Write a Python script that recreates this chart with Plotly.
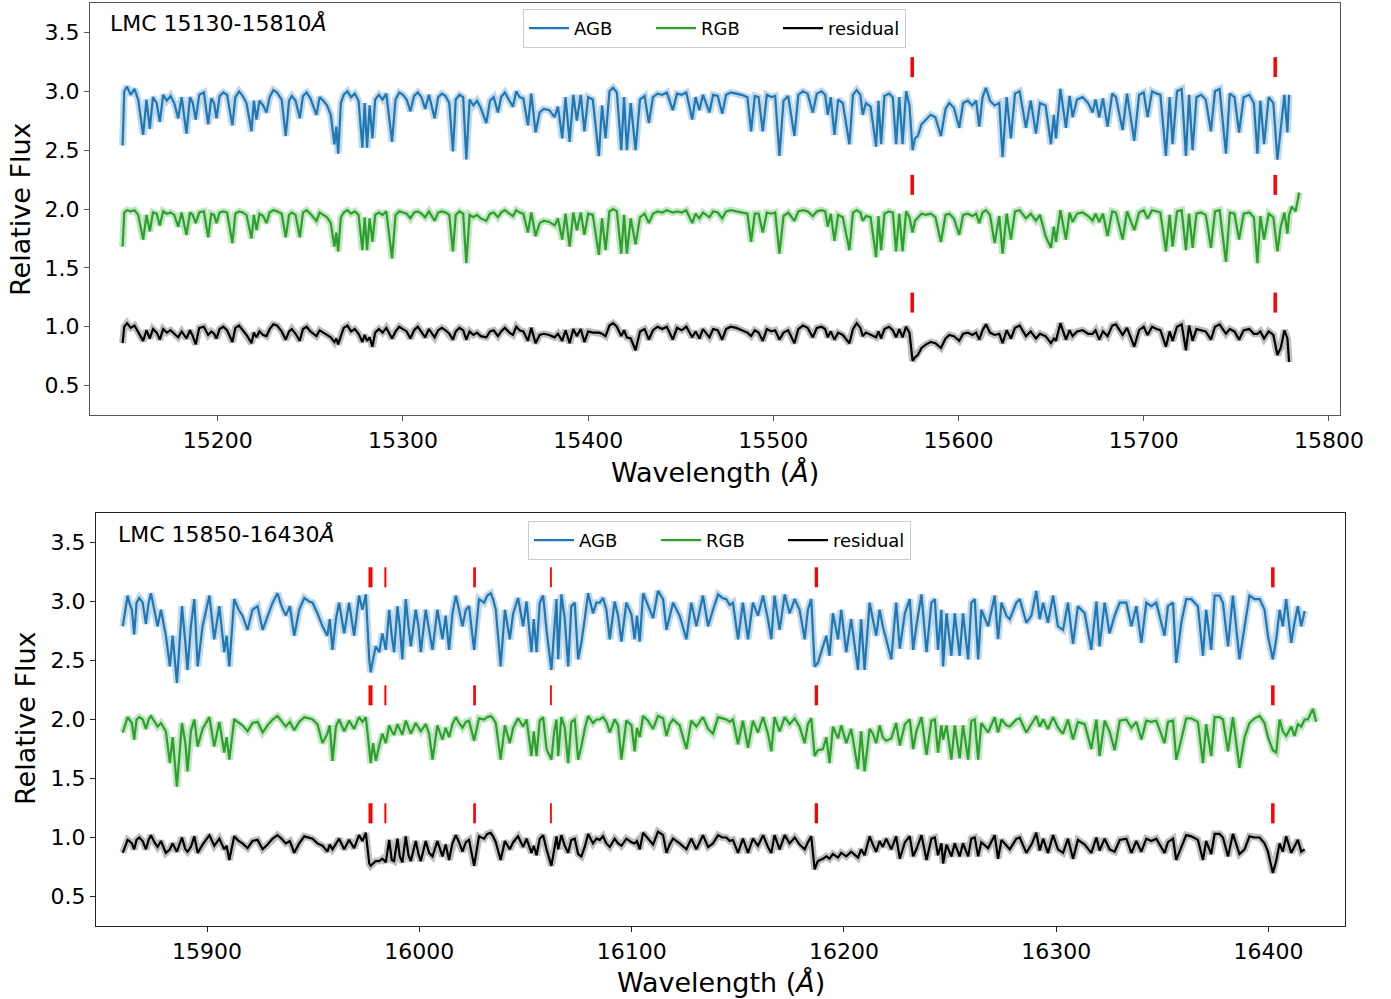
import plotly.graph_objects as go

# ---------------- top panel (LMC 15130-15810 A) ----------------
wl_top = [
    15148.6, 15149.5, 15151, 15153, 15155, 15157, 15159.7, 15161.5, 15163.3, 15165,
    15167, 15168.7, 15170.5, 15172.5, 15174.5, 15176.5, 15178.6, 15180.5, 15183.1, 15185,
    15186.5, 15188.1, 15190, 15192.5, 15194.8, 15196.5, 15198, 15199.3, 15201, 15203,
    15205, 15207.9, 15209.5, 15211.5, 15213.5, 15215.5, 15218.2, 15219.5, 15220.9, 15222.5,
    15224.5, 15226.3, 15228, 15230, 15232, 15234.5, 15236.7, 15238.5, 15240, 15242,
    15244.3, 15246, 15248, 15250, 15253.3, 15255, 15257, 15259, 15261, 15263,
    15264, 15265, 15266.5, 15268, 15270, 15272, 15274, 15276, 15278.1, 15279.3,
    15280.6, 15282, 15283.5, 15285, 15287, 15289, 15291, 15294.1, 15296, 15298,
    15300, 15302, 15304, 15306, 15308, 15310, 15312, 15314, 15317.1, 15319,
    15321, 15323, 15325, 15327, 15328.5, 15330.5, 15332.5, 15334.2, 15336, 15338,
    15340, 15342, 15345, 15347, 15349, 15351.3, 15353, 15355, 15357.5, 15359.4,
    15361.2, 15363, 15365, 15367.5, 15369.3, 15371.6, 15373.8, 15376, 15379, 15381.9,
    15383.7, 15386, 15387.8, 15390, 15392, 15393.9, 15396, 15398, 15400, 15402.5,
    15405.8, 15407.5, 15409.4, 15411.5, 15413.5, 15415.5, 15417.9, 15419.4, 15420.9, 15423,
    15425.6, 15428, 15430.5, 15432.8, 15435, 15437.5, 15440, 15442.5, 15445.7, 15448,
    15450.5, 15453, 15456.2, 15458, 15460.1, 15462, 15465.5, 15467.5, 15470, 15472.4,
    15474.5, 15477, 15480, 15483, 15486, 15488, 15490, 15492, 15494.3, 15496.5,
    15499, 15501, 15503.3, 15505.5, 15508, 15511.4, 15513.5, 15516, 15518.5, 15521.3,
    15523.5, 15526, 15528, 15529.4, 15531, 15533, 15535, 15537.5, 15541.1, 15543,
    15545, 15547, 15548.3, 15550, 15552.5, 15555.5, 15556.8, 15558.2, 15560, 15562.5,
    15564.5, 15566.3, 15568, 15569.8, 15571.7, 15573.5, 15575.2, 15576.5, 15578, 15580,
    15582.5, 15585, 15587.5, 15590.5, 15593, 15595, 15597.5, 15600.4, 15602.5, 15605,
    15607.5, 15609.5, 15611.2, 15613, 15614.8, 15617, 15619.5, 15622, 15623.8, 15626,
    15628.3, 15630.5, 15633, 15636.4, 15639, 15641.8, 15644, 15647, 15649.9, 15651.5,
    15652.6, 15655, 15658, 15660, 15661.6, 15664, 15667, 15670, 15672.4, 15674,
    15676, 15678, 15680.5, 15683, 15685, 15688.6, 15691, 15694.9, 15697.5, 15700,
    15702.1, 15704.5, 15707, 15709, 15712, 15714, 15715.6, 15718, 15720.5, 15722.8,
    15724.5, 15726.4, 15728.5, 15731, 15733.5, 15736.3, 15738.5, 15741, 15744.4, 15746.5,
    15749, 15751.5, 15754, 15757, 15759.5, 15761.4, 15763, 15765, 15767.5, 15770,
    15772.2, 15774, 15776, 15777.6, 15778.5, 15780, 15782, 15784,
]
agb_top = [
    2.54, 3.00, 3.04, 2.97, 3.02, 2.93, 2.63, 2.93, 2.68, 2.95,
    2.90, 2.74, 2.97, 2.92, 2.96, 2.90, 2.77, 2.95, 2.64, 2.95,
    2.90, 2.76, 2.97, 2.99, 2.72, 2.94, 2.90, 2.77, 2.96, 2.99,
    2.97, 2.71, 2.95, 3.00, 2.96, 2.90, 2.66, 2.92, 2.76, 2.92,
    2.88, 2.82, 2.95, 3.01, 2.99, 2.93, 2.62, 2.92, 2.96, 2.92,
    2.77, 2.96, 2.99, 2.94, 2.80, 2.95, 2.92, 2.88, 2.80, 2.55,
    2.70, 2.47, 2.90, 2.97, 3.00, 2.95, 2.98, 2.92, 2.52, 2.90,
    2.52, 2.88, 2.60, 2.93, 2.97, 2.93, 2.98, 2.57, 2.93, 2.99,
    2.97, 2.93, 2.83, 2.96, 2.99, 2.95, 2.85, 2.97, 2.77, 2.95,
    2.98, 2.96, 2.90, 2.49, 2.93, 2.97, 2.95, 2.42, 2.93, 2.88,
    2.92, 2.86, 2.73, 2.92, 2.95, 2.82, 2.95, 2.99, 2.92, 2.87,
    3.00, 2.95, 2.94, 2.71, 2.98, 2.65, 2.82, 2.85, 2.84, 2.78,
    2.87, 2.60, 2.95, 2.57, 2.97, 2.75, 2.97, 2.66, 2.95, 2.93,
    2.45, 2.88, 2.60, 3.00, 3.03, 2.99, 2.50, 2.95, 2.50, 2.90,
    2.50, 2.93, 2.96, 2.73, 2.95, 2.98, 2.97, 2.99, 2.84, 2.98,
    2.97, 2.99, 2.76, 2.95, 2.84, 2.97, 2.82, 2.97, 2.96, 2.81,
    2.97, 2.99, 2.98, 2.97, 2.95, 2.66, 2.96, 2.95, 2.66, 2.97,
    2.95, 2.96, 2.45, 2.92, 2.96, 2.62, 2.97, 3.00, 2.98, 2.82,
    2.98, 3.00, 2.97, 2.80, 2.95, 2.63, 2.93, 2.90, 2.55, 2.97,
    3.01, 2.97, 2.80, 2.90, 2.87, 2.53, 2.92, 2.55, 2.96, 2.98,
    2.95, 2.55, 2.95, 2.55, 3.00, 2.88, 2.50, 2.60, 2.62, 2.72,
    2.76, 2.80, 2.78, 2.62, 2.85, 2.90, 2.86, 2.69, 2.90, 2.92,
    2.88, 2.92, 2.70, 2.95, 3.03, 2.92, 2.88, 2.90, 2.44, 2.95,
    2.60, 2.98, 3.00, 2.69, 2.92, 2.64, 2.90, 2.88, 2.55, 2.80,
    2.60, 3.02, 2.69, 2.96, 2.78, 2.93, 2.95, 2.90, 2.82, 2.93,
    2.78, 2.94, 2.70, 2.98, 2.95, 2.67, 2.98, 2.58, 2.97, 2.99,
    2.78, 3.00, 2.98, 2.97, 2.45, 2.95, 2.55, 3.00, 3.02, 2.45,
    2.97, 2.50, 2.95, 2.97, 2.93, 2.66, 3.00, 3.02, 2.47, 2.98,
    2.95, 2.65, 2.95, 2.97, 2.90, 2.47, 2.92, 2.55, 2.95, 2.90,
    2.42, 2.70, 2.97, 2.65, 2.97, None, None, None,
]
rgb_top = [
    1.68, 1.97, 1.99, 1.98, 1.99, 1.95, 1.74, 1.95, 1.81, 1.97,
    1.96, 1.86, 1.98, 1.96, 1.97, 1.95, 1.85, 1.97, 1.78, 1.97,
    1.95, 1.88, 1.97, 1.98, 1.76, 1.96, 1.95, 1.88, 1.97, 1.98,
    1.97, 1.71, 1.96, 1.98, 1.97, 1.95, 1.75, 1.95, 1.82, 1.96,
    1.94, 1.88, 1.97, 1.99, 1.98, 1.96, 1.76, 1.95, 1.97, 1.95,
    1.76, 1.97, 1.99, 1.96, 1.90, 1.97, 1.95, 1.93, 1.88, 1.68,
    1.80, 1.64, 1.93, 1.97, 1.99, 1.96, 1.98, 1.95, 1.65, 1.93,
    1.65, 1.92, 1.72, 1.95, 1.97, 1.95, 1.98, 1.58, 1.95, 1.98,
    1.97, 1.96, 1.92, 1.97, 1.98, 1.96, 1.93, 1.98, 1.90, 1.97,
    1.98, 1.97, 1.95, 1.64, 1.95, 1.98, 1.96, 1.54, 1.95, 1.93,
    1.95, 1.92, 1.90, 1.96, 1.97, 1.93, 1.97, 1.99, 1.96, 1.94,
    1.99, 1.97, 1.96, 1.80, 1.97, 1.77, 1.88, 1.90, 1.89, 1.86,
    1.92, 1.74, 1.96, 1.68, 1.97, 1.82, 1.97, 1.78, 1.96, 1.95,
    1.61, 1.92, 1.65, 1.98, 2.00, 1.98, 1.62, 1.95, 1.62, 1.92,
    1.70, 1.93, 1.96, 1.88, 1.96, 1.98, 1.97, 1.99, 1.97, 1.98,
    1.97, 1.99, 1.88, 1.96, 1.92, 1.97, 1.93, 1.98, 1.97, 1.92,
    1.98, 1.99, 1.98, 1.97, 1.96, 1.72, 1.96, 1.96, 1.80, 1.97,
    1.96, 1.97, 1.62, 1.94, 1.97, 1.90, 1.98, 1.99, 1.98, 1.94,
    1.98, 1.99, 1.98, 1.85, 1.96, 1.73, 1.95, 1.93, 1.65, 1.97,
    1.99, 1.97, 1.90, 1.94, 1.93, 1.59, 1.94, 1.65, 1.96, 1.98,
    1.97, 1.64, 1.96, 1.64, 1.98, 1.93, 1.80, 1.90, 1.93, 1.96,
    1.95, 1.96, 1.93, 1.72, 1.95, 1.96, 1.92, 1.78, 1.95, 1.96,
    1.94, 1.96, 1.88, 1.97, 1.99, 1.95, 1.71, 1.94, 1.62, 1.96,
    1.74, 1.98, 1.99, 1.92, 1.96, 1.90, 1.95, 1.77, 1.67, 1.85,
    1.72, 1.99, 1.74, 1.97, 1.89, 1.96, 1.97, 1.94, 1.90, 1.96,
    1.89, 1.96, 1.77, 1.98, 1.97, 1.74, 1.98, 1.82, 1.97, 1.99,
    1.92, 1.99, 1.98, 1.97, 1.64, 1.95, 1.68, 1.98, 1.99, 1.65,
    1.96, 1.67, 1.96, 1.97, 1.95, 1.67, 1.98, 1.99, 1.55, 1.97,
    1.96, 1.74, 1.96, 1.97, 1.93, 1.54, 1.94, 1.74, 1.96, 1.93,
    1.64, 1.85, 1.97, 1.79, 1.95, 2.02, 1.98, 2.14,
]
res_top = [
    0.86, 1.00, 1.03, 0.99, 1.01, 0.95, 0.88, 0.97, 0.90, 0.98,
    0.95, 0.89, 0.98, 0.95, 0.97, 0.94, 0.91, 0.96, 0.90, 0.97,
    0.92, 0.85, 0.99, 1.00, 0.93, 0.96, 0.94, 0.90, 0.98, 1.00,
    0.97, 0.87, 0.99, 1.01, 0.97, 0.93, 0.86, 0.95, 0.91, 0.96,
    0.93, 0.92, 0.98, 1.02, 1.01, 0.96, 0.89, 0.96, 0.98, 0.94,
    0.88, 0.98, 1.00, 0.96, 0.92, 0.97, 0.95, 0.93, 0.91, 0.87,
    0.90, 0.85, 0.92, 0.99, 1.01, 0.96, 0.98, 0.94, 0.87, 0.93,
    0.88, 0.91, 0.83, 0.95, 0.98, 0.95, 0.99, 0.90, 0.96, 1.00,
    0.98, 0.96, 0.90, 0.97, 1.00, 0.96, 0.91, 0.98, 0.91, 0.97,
    0.99, 0.97, 0.94, 0.89, 0.96, 0.99, 0.97, 0.89, 0.96, 0.93,
    0.95, 0.92, 0.91, 0.96, 0.97, 0.92, 0.96, 0.99, 0.95, 0.93,
    1.00, 0.97, 0.96, 0.88, 0.99, 0.86, 0.93, 0.94, 0.93, 0.91,
    0.94, 0.88, 0.97, 0.86, 0.98, 0.92, 0.98, 0.87, 0.96, 0.95,
    0.95, 0.94, 0.92, 1.01, 1.03, 1.00, 0.92, 0.97, 0.91, 0.90,
    0.80, 0.96, 0.98, 0.89, 0.97, 1.00, 0.98, 1.00, 0.89, 0.99,
    0.97, 1.00, 0.91, 0.96, 0.90, 0.98, 0.91, 0.98, 0.97, 0.89,
    0.98, 1.00, 0.99, 0.97, 0.95, 0.92, 0.97, 0.95, 0.88, 0.98,
    0.96, 0.97, 0.89, 0.95, 0.97, 0.86, 0.98, 1.01, 0.99, 0.91,
    0.99, 1.00, 0.98, 0.91, 0.96, 0.89, 0.95, 0.93, 0.86, 0.98,
    1.03, 0.99, 0.92, 0.95, 0.93, 0.91, 0.96, 0.90, 0.98, 1.00,
    0.97, 0.91, 0.98, 0.91, 1.00, 0.95, 0.71, 0.74, 0.76, 0.82,
    0.85, 0.87, 0.86, 0.82, 0.90, 0.93, 0.92, 0.88, 0.94, 0.95,
    0.93, 0.95, 0.89, 0.97, 1.02, 0.95, 0.93, 0.94, 0.86, 0.97,
    0.90, 0.99, 1.01, 0.92, 0.96, 0.90, 0.94, 0.92, 0.86, 0.90,
    0.88, 1.03, 0.89, 0.97, 0.92, 0.96, 0.97, 0.94, 0.94, 0.97,
    0.89, 0.96, 0.92, 1.01, 1.02, 0.93, 0.99, 0.83, 0.97, 1.00,
    0.93, 1.00, 0.98, 0.97, 0.83, 0.96, 0.88, 1.00, 1.02, 0.80,
    1.01, 0.88, 0.98, 0.97, 0.96, 0.89, 1.00, 1.02, 0.94, 0.98,
    0.96, 0.89, 0.97, 0.98, 0.94, 0.94, 0.96, 0.90, 0.96, 0.93,
    0.76, 0.82, 0.97, 0.90, 0.70, None, None, None,
]

# ---------------- bottom panel (LMC 15850-16430 A) ----------------
wl_bot = [
    15860.3, 15862.6, 15863.4, 15864.6, 15865.7, 15866.8, 15868.1, 15869.7, 15871.2, 15872.5,
    15873.6, 15875.2, 15876.7, 15878.3, 15880.6, 15882.5, 15883.8, 15885.8, 15888.2, 15889.8,
    15890.8, 15892.4, 15894, 15895.6, 15897.9, 15901.1, 15903.4, 15905.8, 15908.1, 15909.2,
    15910.5, 15912.8, 15914.9, 15916.7, 15919.1, 15921.4, 15923.8, 15926.2, 15928.5, 15930.9,
    15933.2, 15935.1, 15937.1, 15939, 15941.1, 15943.4, 15945.8, 15948.1, 15949.7, 15952,
    15954.4, 15956.7, 15957.8, 15959.1, 15960.7, 15962.2, 15964.6, 15966.9, 15969.3, 15971.6,
    15973.2, 15974.8, 15976.4, 15977.1, 15978.2, 15979.5, 15981.1, 15982.6, 15984.2, 15985.8,
    15987, 15988.1, 15989.7, 15990.8, 15992, 15993.6, 15994.9, 15996, 15998.3, 15999.6,
    16000.7, 16003, 16004.6, 16006.2, 16008.5, 16010.9, 16012.4, 16014, 16015.6, 16017.2,
    16018.7, 16020.3, 16021.9, 16023.4, 16025.8, 16028.1, 16030.5, 16032, 16033.6, 16034.7,
    16036, 16038.3, 16040.3, 16042.6, 16044.2, 16046.5, 16048.9, 16050.5, 16052.8, 16053.9,
    16055.2, 16056.7, 16058.3, 16059.9, 16062.2, 16063.5, 16064.6, 16065.4, 16066.9, 16068.5,
    16070.1, 16071.6, 16073.2, 16074.8, 16076.3, 16077.9, 16079.5, 16081.8, 16083.4, 16085,
    16086.5, 16088.1, 16089.7, 16092, 16093.6, 16095.2, 16097.5, 16099.9, 16101.4, 16102.5,
    16103.8, 16105.4, 16107.7, 16110.1, 16112.4, 16114.8, 16116.4, 16117.9, 16119.5, 16122.6,
    16125.8, 16128.1, 16130.5, 16133.6, 16136, 16138.3, 16140.7, 16142.7, 16144.6, 16146.2,
    16147.7, 16150.1, 16152.4, 16154.8, 16157.1, 16159.5, 16161.9, 16164.2, 16165.8, 16167.3,
    16169.7, 16172.1, 16174.4, 16176.8, 16179.1, 16181.5, 16183, 16184.6, 16186.2, 16187.7,
    16190.1, 16191.7, 16193.2, 16194.8, 16197.2, 16198.7, 16201.1, 16203.4, 16206.6, 16208.1,
    16209.7, 16212.1, 16213.6, 16215.2, 16216.8, 16218.3, 16219.9, 16222.3, 16224.6, 16226.3,
    16228.7, 16231, 16232.6, 16234.1, 16236.5, 16238.9, 16241.2, 16242.8, 16244.3, 16245.9,
    16246.7, 16248.3, 16250.6, 16252.2, 16254.5, 16256.1, 16258.5, 16260, 16261.6, 16263.2,
    16264.7, 16267.9, 16271, 16272.6, 16274.2, 16276.5, 16278.1, 16281.2, 16282.8, 16285.9,
    16288.3, 16290.6, 16292.2, 16293.8, 16296.1, 16298.5, 16300.8, 16303.2, 16305.5, 16307.9,
    16310.2, 16313.4, 16316.5, 16318.9, 16320.4, 16322.8, 16325.1, 16327.5, 16329.9, 16333,
    16335.4, 16337.7, 16340.1, 16342.4, 16344.8, 16347.1, 16351, 16352.6, 16355, 16356.5,
    16358.9, 16361.2, 16363.6, 16366.7, 16369.1, 16370.6, 16373, 16374.6, 16376.9, 16378.5,
    16380.9, 16383.2, 16386.3, 16388.7, 16391, 16393.4, 16395.8, 16398.1, 16399.7, 16402,
    16403.6, 16405.2, 16406.7, 16408.3, 16410.7, 16412.2, 16413.8, 16415.4, 16417, 16418.5,
    16420.9, 16422.4,
]
agb_bot = [
    2.79, 3.05, 2.99, 2.93, 2.72, 2.99, 3.03, 2.99, 2.81, 2.99,
    3.07, 2.93, 2.79, 2.93, 2.71, 2.45, 2.71, 2.31, 2.96, 2.65,
    2.42, 2.79, 3.02, 2.45, 2.79, 3.05, 2.68, 2.96, 2.57, 2.71,
    2.45, 3.02, 2.93, 2.88, 2.76, 2.93, 2.96, 2.76, 2.88, 2.99,
    3.07, 2.96, 2.88, 2.96, 2.71, 2.93, 3.03, 3.00, 2.99, 2.90,
    2.79, 2.71, 2.85, 2.59, 2.85, 2.99, 2.73, 2.99, 2.71, 3.05,
    2.93, 3.06, 2.51, 2.40, 2.51, 2.62, 2.57, 2.73, 2.59, 2.93,
    2.71, 2.57, 2.96, 2.79, 2.51, 3.02, 2.79, 2.62, 2.93, 2.79,
    2.57, 2.93, 2.76, 2.59, 2.93, 2.68, 2.88, 2.59, 2.90, 3.05,
    2.93, 2.79, 2.93, 2.96, 2.59, 3.02, 2.99, 3.05, 3.07, 3.02,
    2.93, 2.45, 2.93, 2.68, 2.90, 3.03, 2.79, 3.00, 2.57, 2.85,
    2.57, 2.99, 3.05, 2.76, 2.42, 2.79, 3.02, 2.51, 3.06, 2.85,
    2.45, 2.96, 2.99, 2.51, 2.65, 2.85, 3.07, 2.90, 2.99, 2.99,
    3.03, 2.93, 2.68, 3.00, 2.88, 2.66, 2.99, 2.89, 2.68, 2.88,
    2.66, 3.07, 2.96, 2.86, 3.09, 3.02, 2.76, 2.88, 2.99, 2.88,
    2.68, 2.99, 2.79, 3.05, 2.79, 2.93, 3.06, 3.03, 3.02, 2.97,
    2.99, 2.68, 2.99, 2.68, 2.99, 2.88, 3.05, 2.85, 2.68, 3.05,
    2.76, 3.06, 2.90, 3.02, 2.93, 2.68, 2.93, 3.02, 2.45, 2.48,
    2.62, 2.71, 2.54, 2.90, 2.68, 2.93, 2.57, 2.85, 2.42, 2.85,
    2.42, 2.99, 2.85, 2.71, 2.93, 2.79, 2.68, 2.51, 2.99, 2.60,
    2.90, 3.02, 2.59, 2.79, 3.06, 2.57, 2.99, 3.02, 2.59, 2.93,
    2.45, 2.90, 2.54, 2.90, 2.54, 2.90, 2.51, 2.99, 3.02, 2.51,
    2.93, 2.79, 3.05, 2.68, 2.99, 2.88, 2.85, 2.99, 3.02, 2.82,
    2.88, 3.09, 2.85, 2.99, 2.82, 3.05, 2.79, 2.76, 2.99, 2.64,
    2.96, 2.90, 2.59, 3.00, 2.62, 2.99, 2.73, 2.88, 2.99, 2.99,
    2.79, 2.96, 2.65, 2.99, 2.96, 2.99, 2.71, 2.96, 2.99, 2.48,
    2.82, 3.02, 3.02, 2.96, 2.54, 2.93, 2.59, 3.05, 3.05, 2.99,
    2.62, 3.05, 2.51, 2.79, 3.05, 3.02, 3.02, 2.93, 2.71, 2.51,
    2.68, 2.93, 2.79, 3.02, 2.65, 2.82, 2.96, 2.79, 2.92, None,
    None, None,
]
rgb_bot = [
    1.89, 2.02, 2.00, 1.97, 1.83, 2.00, 2.02, 2.00, 1.92, 2.00,
    2.03, 1.98, 1.94, 1.97, 1.90, 1.63, 1.85, 1.43, 1.97, 1.80,
    1.56, 1.90, 2.00, 1.77, 1.92, 2.02, 1.77, 1.98, 1.72, 1.85,
    1.66, 2.00, 1.97, 1.95, 1.90, 1.97, 1.98, 1.89, 1.95, 2.00,
    2.03, 1.99, 1.94, 1.98, 1.91, 1.98, 2.02, 2.01, 2.00, 1.96,
    1.80, 1.88, 1.95, 1.65, 1.94, 2.00, 1.90, 1.99, 1.92, 2.02,
    1.98, 2.02, 1.70, 1.63, 1.80, 1.65, 1.78, 1.88, 1.80, 1.95,
    1.90, 1.87, 1.96, 1.92, 1.87, 1.99, 1.92, 1.88, 1.97, 1.93,
    1.90, 1.96, 1.88, 1.66, 1.95, 1.83, 1.93, 1.85, 1.96, 2.02,
    1.97, 1.93, 1.98, 1.99, 1.82, 2.01, 2.00, 2.02, 2.03, 2.01,
    1.97, 1.66, 1.95, 1.80, 1.93, 2.01, 1.94, 2.00, 1.69, 1.90,
    1.69, 1.99, 2.02, 1.75, 1.66, 1.90, 2.00, 1.69, 2.02, 1.93,
    1.63, 1.98, 2.00, 1.66, 1.77, 1.92, 2.03, 1.97, 2.00, 2.00,
    2.02, 1.98, 1.89, 2.00, 1.95, 1.66, 1.99, 1.95, 1.73, 1.93,
    1.85, 2.03, 1.99, 1.92, 2.03, 2.01, 1.86, 1.96, 2.00, 1.95,
    1.75, 1.99, 1.94, 2.02, 1.92, 1.88, 2.02, 2.01, 2.00, 1.98,
    2.00, 1.79, 1.99, 1.76, 1.99, 1.89, 2.02, 1.88, 1.73, 2.02,
    1.90, 2.02, 1.96, 2.01, 1.94, 1.80, 1.96, 2.01, 1.69, 1.74,
    1.75, 1.85, 1.63, 1.94, 1.84, 1.95, 1.80, 1.92, 1.58, 1.90,
    1.56, 1.92, 1.88, 1.80, 1.95, 1.85, 1.82, 1.84, 1.97, 1.78,
    1.96, 2.00, 1.75, 1.90, 2.02, 1.70, 1.99, 2.00, 1.72, 1.95,
    1.83, 1.95, 1.66, 1.95, 1.67, 1.95, 1.66, 1.99, 2.00, 1.66,
    1.97, 1.89, 2.02, 1.89, 2.00, 1.95, 1.94, 2.00, 2.01, 1.89,
    1.96, 2.03, 1.94, 2.00, 1.92, 2.02, 1.93, 1.88, 2.00, 1.83,
    1.98, 1.96, 1.75, 2.00, 1.69, 1.99, 1.90, 1.74, 1.99, 2.00,
    1.93, 1.98, 1.83, 1.99, 1.98, 1.99, 1.80, 1.98, 1.99, 1.66,
    1.83, 2.01, 2.01, 1.98, 1.63, 1.96, 1.69, 2.02, 2.02, 2.00,
    1.73, 2.02, 1.59, 1.85, 1.97, 2.01, 2.03, 1.97, 1.85, 1.74,
    1.72, 2.00, 1.90, 1.86, 1.94, 1.86, 1.96, 1.94, 2.00, 2.00,
    2.09, 1.98,
]
res_bot = [
    0.87, 0.98, 0.97, 0.95, 0.90, 0.98, 1.00, 0.97, 0.90, 0.98,
    1.02, 0.96, 0.92, 0.97, 0.87, 0.90, 0.95, 0.88, 1.00, 0.90,
    0.88, 0.92, 1.01, 0.87, 0.94, 1.02, 0.93, 0.99, 0.90, 0.93,
    0.81, 1.01, 0.97, 0.95, 0.91, 0.97, 0.98, 0.90, 0.94, 0.99,
    1.02, 0.99, 0.95, 0.97, 0.87, 0.95, 1.01, 1.00, 0.99, 0.95,
    0.93, 0.88, 0.94, 0.90, 0.95, 0.99, 0.90, 0.98, 0.91, 1.02,
    0.97, 1.04, 0.78, 0.76, 0.78, 0.80, 0.80, 0.82, 0.79, 0.98,
    0.81, 0.80, 0.99, 0.84, 0.79, 1.01, 0.85, 0.80, 0.97, 0.86,
    0.80, 0.97, 0.87, 0.84, 0.97, 0.84, 0.94, 0.81, 0.95, 1.02,
    0.96, 0.88, 0.96, 0.98, 0.76, 1.01, 0.99, 1.03, 1.04, 1.01,
    0.96, 0.81, 0.97, 0.90, 0.96, 1.01, 0.92, 0.99, 0.87, 0.93,
    0.85, 0.99, 1.02, 0.90, 0.76, 0.88, 1.01, 0.90, 1.02, 0.93,
    0.87, 0.98, 0.99, 0.86, 0.84, 0.92, 1.03, 0.95, 0.99, 0.98,
    1.01, 0.95, 0.92, 0.99, 0.95, 0.93, 0.99, 0.96, 0.95, 0.97,
    0.90, 1.04, 0.99, 0.94, 1.05, 1.02, 0.87, 0.94, 0.99, 0.95,
    0.90, 0.99, 0.90, 1.02, 0.92, 0.95, 1.02, 1.00, 1.00, 0.97,
    0.98, 0.87, 0.99, 0.87, 0.99, 0.93, 1.02, 0.92, 0.87, 1.02,
    0.90, 1.02, 0.95, 1.00, 0.94, 0.90, 0.96, 1.01, 0.73, 0.80,
    0.82, 0.84, 0.82, 0.86, 0.83, 0.87, 0.84, 0.88, 0.83, 0.90,
    0.85, 1.01, 0.94, 0.88, 0.97, 0.92, 0.99, 0.90, 1.01, 0.82,
    0.96, 1.01, 0.84, 0.90, 1.02, 0.81, 0.99, 1.00, 0.85, 0.95,
    0.78, 0.94, 0.84, 0.95, 0.84, 0.95, 0.84, 0.99, 1.00, 0.84,
    0.96, 0.91, 1.02, 0.82, 0.98, 0.93, 0.90, 0.99, 1.00, 0.87,
    0.94, 1.04, 0.89, 0.99, 0.87, 1.02, 0.90, 0.87, 0.99, 0.82,
    0.98, 0.94, 0.87, 1.00, 0.89, 0.99, 0.90, 0.88, 0.98, 0.99,
    0.87, 0.97, 0.88, 0.99, 0.97, 0.99, 0.87, 0.96, 0.99, 0.81,
    0.92, 1.02, 1.01, 0.98, 0.81, 0.97, 0.86, 1.03, 1.03, 1.00,
    0.84, 1.03, 0.86, 0.90, 1.01, 1.00, 1.00, 0.95, 0.88, 0.70,
    0.80, 0.95, 0.88, 1.01, 0.87, 0.92, 0.98, 0.88, 0.90, None,
    None, None,
]

# red tick marks (wavelength, line width) and their vertical spans
marks_top = [15575, 15771]
mark_w_top = [3.5, 3.5]
marks_bot = [15977, 15984, 16026, 16062, 16187, 16402]
mark_w_bot = [4, 2, 2.7, 1.8, 3.3, 3.5]
mark_spans = [(3.12, 3.29), (2.12, 2.29), (1.12, 1.29)]

panel_titles = ["LMC 15130-15810<i>Å</i>", "LMC 15850-16430<i>Å</i>"]
xticks_top = [15200, 15300, 15400, 15500, 15600, 15700, 15800]
xticks_bot = [15900, 16000, 16100, 16200, 16300, 16400]
yticks = [0.5, 1.0, 1.5, 2.0, 2.5, 3.0, 3.5]

colors = {"AGB": "#1f77b4", "RGB": "#2ca02c", "residual": "#000000"}
bands = {"AGB": "rgba(31,119,180,0.28)", "RGB": "rgba(44,160,44,0.28)",
         "residual": "rgba(0,0,0,0.25)"}

FONT = "DejaVu Sans"
fig = go.Figure()


def add_panel(wl, series, xa, ya, legend):
    for name, vals in series:
        fig.add_trace(go.Scatter(
            x=wl, y=vals, mode="lines", xaxis=xa, yaxis=ya, showlegend=False,
            hoverinfo="skip", line=dict(color=bands[name], width=7)))
    for name, vals in series:
        fig.add_trace(go.Scatter(
            x=wl, y=vals, mode="lines", name=name, xaxis=xa, yaxis=ya,
            legend=legend, line=dict(color=colors[name], width=2.2)))


add_panel(wl_top, [("AGB", agb_top), ("RGB", rgb_top), ("residual", res_top)],
          "x", "y", "legend")
add_panel(wl_bot, [("AGB", agb_bot), ("RGB", rgb_bot), ("residual", res_bot)],
          "x2", "y2", "legend2")

shapes = []
for marks, widths, xr, yr in [(marks_top, mark_w_top, "x", "y"),
                              (marks_bot, mark_w_bot, "x2", "y2")]:
    for m, w in zip(marks, widths):
        for y0, y1 in mark_spans:
            shapes.append(dict(type="line", xref=xr, yref=yr, x0=m, x1=m,
                               y0=y0, y1=y1, line=dict(color="#ff0000", width=w)))

axis_common = dict(showline=True, mirror=True, ticks="outside", ticklen=5,
                   tickwidth=1, showgrid=False, zeroline=False,
                   automargin=False,
                   tickfont=dict(family=FONT, size=22, color="#000"))

W, H = 1391, 999
top_px = (90, 1340, 3, 415)
bot_px = (96, 1345, 513, 926)


def dom_x(p):
    return [p[0] / W, p[1] / W]


def dom_y(p):
    return [1 - p[3] / H, 1 - p[2] / H]


legend_common = dict(orientation="h", xanchor="left", yanchor="top",
                     bgcolor="rgba(255,255,255,0.8)", bordercolor="#cccccc",
                     borderwidth=1, itemwidth=40, entrywidth=72,
                     font=dict(family=FONT, size=18, color="#000"))

fig.update_layout(
    width=W, height=H, autosize=False,
    margin=dict(l=0, r=0, t=0, b=0, pad=0, autoexpand=False),
    paper_bgcolor="white", plot_bgcolor="white",
    font=dict(family=FONT, color="#000"),
    xaxis=dict(domain=dom_x(top_px), anchor="y", range=[15131, 15806],
               tickvals=xticks_top, tickformat="d", linecolor="#555",
               linewidth=1.3, tickcolor="#555", **axis_common),
    yaxis=dict(domain=dom_y(top_px), anchor="x", range=[0.25, 3.75],
               tickvals=yticks, tickformat=".1f", linecolor="#555",
               linewidth=1.3, tickcolor="#555", **axis_common),
    xaxis2=dict(domain=dom_x(bot_px), anchor="y2", range=[15847.7, 16436],
                tickvals=xticks_bot, tickformat="d", linecolor="#222",
                linewidth=1.2, tickcolor="#222", **axis_common),
    yaxis2=dict(domain=dom_y(bot_px), anchor="x2", range=[0.25, 3.75],
                tickvals=yticks, tickformat=".1f", linecolor="#222",
                linewidth=1.2, tickcolor="#222", **axis_common),
    legend=dict(x=523 / W, y=1 - 9 / H, **legend_common),
    legend2=dict(x=528 / W, y=1 - 521 / H, **legend_common),
    shapes=shapes,
    showlegend=True,
)

annotations = [
    dict(text=panel_titles[0], xref="paper", yref="paper", x=108 / W,
         y=1 - 23 / H, xanchor="left", yanchor="middle", showarrow=False,
         font=dict(family=FONT, size=22, color="#000")),
    dict(text=panel_titles[1], xref="paper", yref="paper", x=116 / W,
         y=1 - 534 / H, xanchor="left", yanchor="middle", showarrow=False,
         font=dict(family=FONT, size=22, color="#000")),
    dict(text="Wavelength (<i>Å</i>)", xref="paper", yref="paper",
         x=(top_px[0] + top_px[1]) / 2 / W, y=1 - 472 / H, xanchor="center",
         yanchor="middle", showarrow=False,
         font=dict(family=FONT, size=27, color="#000")),
    dict(text="Wavelength (<i>Å</i>)", xref="paper", yref="paper",
         x=(bot_px[0] + bot_px[1]) / 2 / W, y=1 - 982 / H, xanchor="center",
         yanchor="middle", showarrow=False,
         font=dict(family=FONT, size=27, color="#000")),
    dict(text="Relative Flux", xref="paper", yref="paper", x=20 / W,
         y=1 - 209 / H, xanchor="center", yanchor="middle", textangle=-90,
         showarrow=False, font=dict(family=FONT, size=27, color="#000")),
    dict(text="Relative Flux", xref="paper", yref="paper", x=25 / W,
         y=1 - 718 / H, xanchor="center", yanchor="middle", textangle=-90,
         showarrow=False, font=dict(family=FONT, size=27, color="#000")),
]
fig.update_layout(annotations=annotations)

fig.write_html("out.html", config={"responsive": False},
               default_width="1391px", default_height="999px")
